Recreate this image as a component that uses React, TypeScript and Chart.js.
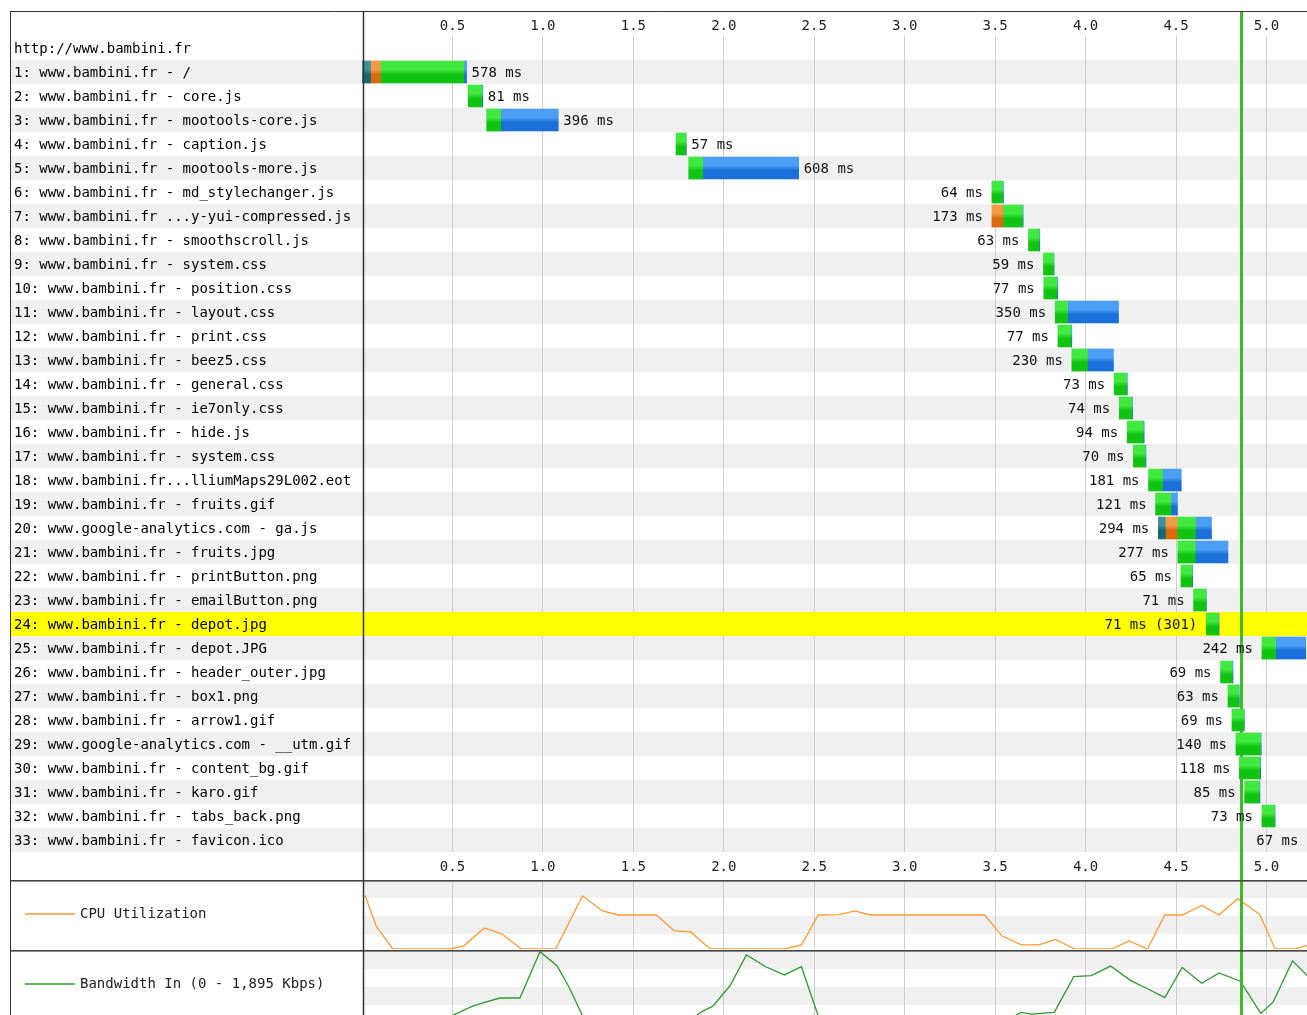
import React, { useEffect, useRef } from 'react';
import { Chart, registerables } from 'chart.js';

Chart.register(...registerables);

// ---------- data ----------
const pageUrl = 'http://www.bambini.fr';

const requestLabels = [
  pageUrl,
  '1: www.bambini.fr - /',
  '2: www.bambini.fr - core.js',
  '3: www.bambini.fr - mootools-core.js',
  '4: www.bambini.fr - caption.js',
  '5: www.bambini.fr - mootools-more.js',
  '6: www.bambini.fr - md_stylechanger.js',
  '7: www.bambini.fr ...y-yui-compressed.js',
  '8: www.bambini.fr - smoothscroll.js',
  '9: www.bambini.fr - system.css',
  '10: www.bambini.fr - position.css',
  '11: www.bambini.fr - layout.css',
  '12: www.bambini.fr - print.css',
  '13: www.bambini.fr - beez5.css',
  '14: www.bambini.fr - general.css',
  '15: www.bambini.fr - ie7only.css',
  '16: www.bambini.fr - hide.js',
  '17: www.bambini.fr - system.css',
  '18: www.bambini.fr...lliumMaps29L002.eot',
  '19: www.bambini.fr - fruits.gif',
  '20: www.google-analytics.com - ga.js',
  '21: www.bambini.fr - fruits.jpg',
  '22: www.bambini.fr - printButton.png',
  '23: www.bambini.fr - emailButton.png',
  '24: www.bambini.fr - depot.jpg',
  '25: www.bambini.fr - depot.JPG',
  '26: www.bambini.fr - header_outer.jpg',
  '27: www.bambini.fr - box1.png',
  '28: www.bambini.fr - arrow1.gif',
  '29: www.google-analytics.com - __utm.gif',
  '30: www.bambini.fr - content_bg.gif',
  '31: www.bambini.fr - karo.gif',
  '32: www.bambini.fr - tabs_back.png',
  '33: www.bambini.fr - favicon.ico',
];

// request start (seconds)
const startTimes = [
  null, 0.0, 0.587, 0.689, 1.736, 1.806, 3.482, 3.482, 3.684, 3.767,
  3.769, 3.832, 3.847, 3.924, 4.158, 4.186, 4.23, 4.264, 4.348, 4.387,
  4.402, 4.51, 4.527, 4.597, 4.667, 4.975, 4.746, 4.787, 4.809, 4.831,
  4.85, 4.879, 4.975, 5.226,
];
// phase durations (ms)
const dnsMs = [
  0, 47, 0, 0, 0, 0, 0, 0, 0, 0, 0, 0, 0, 0, 0, 0, 0, 0, 0, 0,
  39, 0, 0, 0, 0, 0, 0, 0, 0, 0, 0, 0, 0, 0,
];
const connectMs = [
  0, 55, 0, 0, 0, 0, 0, 61, 0, 0, 0, 0, 0, 0, 0, 0, 0, 0, 0, 0,
  65, 0, 0, 0, 0, 0, 0, 0, 0, 0, 0, 0, 0, 0,
];
const ttfbMs = [
  0, 461, 76, 77, 53, 77, 60, 108, 59, 56, 73, 68, 73, 86, 69, 70, 89, 66, 77, 85,
  101, 96, 61, 67, 67, 75, 65, 59, 65, 136, 114, 81, 69, 63,
];
const downloadMs = [
  0, 15, 5, 319, 4, 531, 4, 4, 4, 3, 4, 282, 4, 144, 4, 4, 5, 4, 104, 36,
  89, 181, 4, 4, 4, 167, 4, 4, 4, 4, 4, 4, 4, 4,
];
const statusCodes = [
  null, 200, 200, 200, 200, 200, 200, 200, 200, 200, 200, 200, 200, 200, 200, 200, 200,
  200, 200, 200, 200, 200, 200, 200, 301, 200, 200, 200, 200, 200, 200, 200, 200, 200,
];

const docCompleteTime = 4.862; // seconds

const axisTickValues = [0.5, 1.0, 1.5, 2.0, 2.5, 3.0, 3.5, 4.0, 4.5, 5.0];

// CPU utilization (time s, %)
const cpuTimes = [
  0.017, 0.078, 0.17, 0.49, 0.565, 0.676, 0.774, 0.881, 1.071, 1.219, 1.33, 1.417, 1.627,
  1.725, 1.819, 1.868, 1.928, 2.34, 2.43, 2.522, 2.64, 2.725, 2.81, 3.442, 3.539, 3.645,
  3.742, 3.834, 3.94, 4.145, 4.24, 4.342, 4.438, 4.534, 4.642, 4.738, 4.841, 4.962, 5.048,
  5.155, 5.225,
];
const cpuValues = [
  79, 34, 0, 0, 5, 31, 22, 0, 0, 78, 56, 50, 50,
  27, 25, 13, 0, 0, 6, 50, 50.5, 56, 50, 50, 19, 6,
  6, 14, 0, 0, 12, 0, 50, 50, 64, 50, 74, 51, 0,
  0, 5,
];

// Bandwidth in (time s, Kbps)
const bwTimes = [
  0.0, 0.17, 0.39, 0.503, 0.614, 0.688, 0.762, 0.873, 0.984, 1.078, 1.145, 1.23, 1.42,
  1.63, 1.82, 1.876, 1.94, 2.035, 2.125, 2.232, 2.335, 2.429, 2.53, 2.9, 3.3, 3.58,
  3.625, 3.645, 3.699, 3.827, 3.935, 4.031, 4.138, 4.25, 4.342, 4.438, 4.534, 4.642,
  4.738, 4.855, 4.969, 5.037, 5.144, 5.225,
];
const bwValues = [
  0, 0, 0, 135, 387, 495, 604, 604, 1876, 1489, 901, 0, 0,
  0, 0, 225, 379, 947, 1787, 1462, 1237, 1462, 0, 0, 0, 0,
  162, 208, 162, 208, 1191, 1218, 1481, 1083, 858, 615, 1443, 1010,
  1291, 1064, 181, 495, 1624, 1218,
];
const bwMaxKbps = 1895;

const cpuLegend = 'CPU Utilization';
const bwLegend = 'Bandwidth In (0 - 1,895 Kbps)';

// ---------- styling ----------
const FONT = "'DejaVu Sans Mono', 'Liberation Mono', monospace";
const X_MAX = 5.224;
const LABEL_LEFT = 14;
const CHART_LEFT = 362;
const SEP_X = 363.5;
const BORDER_X = 10.5;
const GREEN_MARK = '#3dbb26';
const SHADE = '#f0f0f0';
const CPU_COLOR = '#ff9933';
const BW_COLOR = '#2f9a2f';

const fmtTick = (v: any) => {
  const n = Number(v);
  if (!(n > 0)) return '';
  const hit = axisTickValues.find((t) => Math.abs(t - n) < 1e-6);
  return hit === undefined ? '' : hit.toFixed(1);
};
const gridColor = (c: any) => {
  const v = c && c.tick ? c.tick.value : 0;
  return axisTickValues.some((t) => Math.abs(t - v) < 1e-6) ? '#cdcdcd' : 'rgba(0,0,0,0)';
};

const gradFill = (light: string, dark: string) => (c: any) => {
  try {
    const chart = c.chart;
    const ys = chart.scales && chart.scales.y;
    if (!ys || c.dataIndex == null) return dark;
    const yc = ys.getPixelForValue(c.dataIndex);
    if (!isFinite(yc)) return dark;
    const g = chart.ctx.createLinearGradient(0, yc - 11, 0, yc + 11);
    g.addColorStop(0, light);
    g.addColorStop(0.38, light);
    g.addColorStop(0.62, dark);
    g.addColorStop(1, dark);
    return g;
  } catch (e) {
    return dark;
  }
};

function ranges(offsetMs: (i: number) => number, lenArr: number[]) {
  return startTimes.map((s, i) => {
    if (s == null || !lenArr[i]) return null;
    const a = s + offsetMs(i) / 1000;
    return [a, a + lenArr[i] / 1000];
  });
}

const totalMs = (i: number) => dnsMs[i] + connectMs[i] + ttfbMs[i] + downloadMs[i];

function drawGreenLine(chart: any, y0: number, y1: number) {
  const xs = chart.scales.x;
  const x = xs.getPixelForValue(docCompleteTime);
  const ctx = chart.ctx;
  ctx.save();
  ctx.strokeStyle = GREEN_MARK;
  ctx.lineWidth = 3;
  ctx.beginPath();
  ctx.moveTo(x, y0);
  ctx.lineTo(x, y1);
  ctx.stroke();
  ctx.restore();
}

function drawFrame(chart: any, top: number) {
  const { ctx, height } = chart;
  ctx.save();
  ctx.strokeStyle = '#333';
  ctx.lineWidth = 1;
  ctx.beginPath();
  ctx.moveTo(BORDER_X, top);
  ctx.lineTo(BORDER_X, height);
  ctx.stroke();
  ctx.lineWidth = 1.5;
  ctx.beginPath();
  ctx.moveTo(SEP_X, top);
  ctx.lineTo(SEP_X, height);
  ctx.stroke();
  ctx.restore();
}

const isHighlighted = (i: number) => statusCodes[i] != null && statusCodes[i] !== 200;

const waterfallPlugin = {
  id: 'waterfallDecor',
  beforeDraw(chart: any) {
    const { ctx, width, height } = chart;
    const ys = chart.scales.y;
    ctx.save();
    ctx.fillStyle = '#fff';
    ctx.fillRect(0, 0, width, height);
    for (let i = 0; i < requestLabels.length; i++) {
      const yc = ys.getPixelForValue(i);
      if (isHighlighted(i)) ctx.fillStyle = '#ffff00';
      else if (i % 2 === 1) ctx.fillStyle = SHADE;
      else continue;
      ctx.fillRect(BORDER_X, yc - 12, width - BORDER_X, 24);
    }
    ctx.restore();
  },
  beforeDatasetsDraw(chart: any) {
    const { ctx, chartArea } = chart;
    const ys = chart.scales.y;
    ctx.save();
    ctx.fillStyle = '#ffff00';
    for (let i = 0; i < requestLabels.length; i++) {
      if (!isHighlighted(i)) continue;
      const yc = ys.getPixelForValue(i);
      ctx.fillRect(chartArea.left, yc - 12, chartArea.right - chartArea.left, 24);
    }
    ctx.restore();
    drawGreenLine(chart, 11, chart.height);
  },
  afterDatasetsDraw(chart: any) {
    const { ctx } = chart;
    const xs = chart.scales.x;
    const ys = chart.scales.y;
    ctx.save();
    ctx.font = `14px ${FONT}`;
    ctx.fillStyle = '#111';
    ctx.textBaseline = 'middle';
    for (let i = 0; i < requestLabels.length; i++) {
      const s = startTimes[i];
      if (s == null) continue;
      const tot = totalMs(i);
      const text = `${tot} ms` + (isHighlighted(i) ? ` (${statusCodes[i]})` : '');
      const end = s + tot / 1000;
      const yc = ys.getPixelForValue(i) + 1;
      if (end < X_MAX / 2) {
        ctx.textAlign = 'left';
        ctx.fillText(text, xs.getPixelForValue(end) + 5, yc);
      } else {
        ctx.textAlign = 'right';
        ctx.fillText(text, xs.getPixelForValue(s) - 9, yc);
      }
    }
    ctx.restore();
  },
  afterDraw(chart: any) {
    const { ctx, width } = chart;
    ctx.save();
    ctx.strokeStyle = '#333';
    ctx.lineWidth = 1;
    ctx.beginPath();
    ctx.moveTo(BORDER_X, 11.5);
    ctx.lineTo(width, 11.5);
    ctx.stroke();
    ctx.restore();
    drawFrame(chart, 11);
  },
};

function sectionPlugin(legend: string, color: string, bandStart: number) {
  return {
    id: 'sectionDecor',
    beforeDraw(chart: any) {
      const { ctx, width, height, chartArea } = chart;
      ctx.save();
      ctx.fillStyle = '#fff';
      ctx.fillRect(0, 0, width, height);
      ctx.fillStyle = SHADE;
      ctx.fillRect(chartArea.left + 2, bandStart, width, 18);
      ctx.fillRect(chartArea.left + 2, bandStart + 36, width, 18);
      // legend
      ctx.strokeStyle = color;
      ctx.lineWidth = 1.3;
      ctx.beginPath();
      ctx.moveTo(25, 34);
      ctx.lineTo(75, 34);
      ctx.stroke();
      ctx.font = `14px ${FONT}`;
      ctx.fillStyle = '#222';
      ctx.textBaseline = 'middle';
      ctx.textAlign = 'left';
      ctx.fillText(legend, 80, 34);
      ctx.restore();
    },
    afterDatasetsDraw(chart: any) {
      drawGreenLine(chart, 0, chart.height);
    },
    afterDraw(chart: any) {
      const { ctx, width } = chart;
      ctx.save();
      ctx.fillStyle = '#444';
      ctx.fillRect(BORDER_X, 0, width, 1.6);
      ctx.restore();
      drawFrame(chart, 0);
    },
  };
}

const timeAxis = (extra: any) => ({
  type: 'linear',
  min: 0,
  max: X_MAX,
  border: { display: false },
  ...extra,
});

export default function App() {
  const wfRef = useRef<HTMLCanvasElement | null>(null);
  const cpuRef = useRef<HTMLCanvasElement | null>(null);
  const bwRef = useRef<HTMLCanvasElement | null>(null);

  useEffect(() => {
    const tickFont = { family: FONT, size: 14 };
    const barCommon = { grouped: false, barThickness: 22, borderWidth: 0 };

    const wf = new Chart(wfRef.current as HTMLCanvasElement, {
      type: 'bar',
      data: {
        labels: requestLabels,
        datasets: [
          { label: 'DNS Lookup', data: ranges(() => 0, dnsMs), backgroundColor: gradFill('#3d939a', '#16686f'), ...barCommon },
          { label: 'Initial Connection', data: ranges((i) => dnsMs[i], connectMs), backgroundColor: gradFill('#f59a45', '#d9690c'), ...barCommon },
          { label: 'Time to First Byte', data: ranges((i) => dnsMs[i] + connectMs[i], ttfbMs), backgroundColor: gradFill('#40e840', '#12c412'), ...barCommon },
          { label: 'Content Download', data: ranges((i) => dnsMs[i] + connectMs[i] + ttfbMs[i], downloadMs), backgroundColor: gradFill('#4b9ef4', '#1a6fd8'), ...barCommon },
        ] as any,
      },
      options: {
        indexAxis: 'y',
        responsive: false,
        animation: false,
        events: [],
        layout: { padding: { top: 11, left: LABEL_LEFT, right: 0, bottom: 0 } },
        plugins: { legend: { display: false }, tooltip: { enabled: false } },
        scales: {
          y: {
            type: 'category',
            position: 'left',
            offset: true,
            grid: { display: false, drawTicks: false },
            border: { display: false },
            ticks: { crossAlign: 'far', padding: 0, labelOffset: 1, autoSkip: false, color: '#000', font: tickFont },
            afterFit: (s: any) => { s.width = CHART_LEFT - LABEL_LEFT; },
          },
          x: timeAxis({
            position: 'bottom',
            grid: { color: gridColor, drawTicks: false, lineWidth: 1 },
            ticks: { stepSize: 0.5, includeBounds: false, padding: 7, color: '#222', font: tickFont, callback: fmtTick, maxRotation: 0, autoSkip: false },
            afterFit: (s: any) => { s.height = 28; },
          }),
          xTop: timeAxis({
            position: 'top',
            grid: { display: false, drawTicks: false },
            ticks: { stepSize: 0.5, includeBounds: false, padding: 1, color: '#222', font: tickFont, callback: fmtTick, maxRotation: 0, autoSkip: false },
            afterFit: (s: any) => { s.height = 25; },
          }),
        },
      } as any,
      plugins: [waterfallPlugin],
    });

    const sectionOptions = (yMax: number, padTop: number, padBottom: number) => ({
      responsive: false,
      animation: false,
      events: [],
      layout: { padding: { top: padTop, left: CHART_LEFT, right: 0, bottom: padBottom } },
      plugins: { legend: { display: false }, tooltip: { enabled: false } },
      scales: {
        x: timeAxis({
          grid: { color: gridColor, drawTicks: false, lineWidth: 1 },
          ticks: { display: false, stepSize: 0.5, includeBounds: false },
          afterFit: (s: any) => { s.height = 0; },
        }),
        y: { display: false, min: 0, max: yMax },
      },
    });

    const cpu = new Chart(cpuRef.current as HTMLCanvasElement, {
      type: 'line',
      data: {
        datasets: [{
          label: cpuLegend,
          data: cpuTimes.map((t, i) => ({ x: t, y: cpuValues[i] })),
          borderColor: CPU_COLOR,
          borderWidth: 1.3,
          pointRadius: 0,
          tension: 0,
          fill: false,
        }],
      },
      options: sectionOptions(100, 1, 1) as any,
      plugins: [sectionPlugin(cpuLegend, CPU_COLOR, 0)],
    });

    const bw = new Chart(bwRef.current as HTMLCanvasElement, {
      type: 'line',
      data: {
        datasets: [{
          label: bwLegend,
          data: bwTimes.map((t, i) => ({ x: t, y: bwValues[i] })),
          borderColor: BW_COLOR,
          borderWidth: 1.3,
          pointRadius: 0,
          tension: 0,
          fill: false,
        }],
      },
      options: sectionOptions(bwMaxKbps, 1, 0) as any,
      plugins: [sectionPlugin(bwLegend, BW_COLOR, 1)],
    });

    return () => {
      wf.destroy();
      cpu.destroy();
      bw.destroy();
    };
  }, []);

  return (
    <div style={{ position: 'absolute', left: 0, top: 0, width: 1307, height: 1015, overflow: 'hidden', background: '#fff' }}>
      <canvas ref={wfRef} width={1307} height={880} style={{ position: 'absolute', left: 0, top: 0, display: 'block' }} />
      <canvas ref={cpuRef} width={1307} height={70} style={{ position: 'absolute', left: 0, top: 880, display: 'block' }} />
      <canvas ref={bwRef} width={1307} height={70} style={{ position: 'absolute', left: 0, top: 950, display: 'block' }} />
    </div>
  );
}
